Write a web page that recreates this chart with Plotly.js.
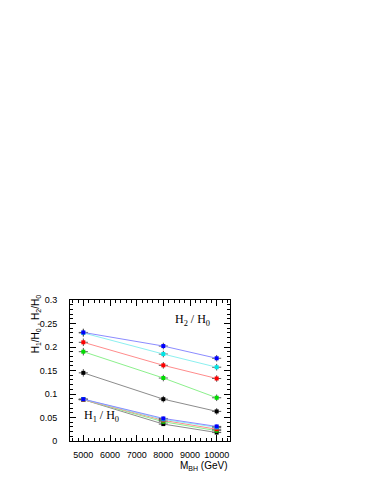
<!DOCTYPE html>
<html><head><meta charset="utf-8">
<script src="https://cdn.plot.ly/plotly-3.0.1.min.js"></script>
<style>body{margin:0;background:#fff}#c{width:382px;height:494px}</style>
</head><body><div id="c"></div>
<script>
var masses = [5000, 8000, 10000];
var xTicks = [5000, 6000, 7000, 8000, 9000, 10000];
var xTickText = ['5000', '6000', '7000', '8000', '9000', '10000'];
var yTicks = [0, 0.05, 0.1, 0.15, 0.2, 0.25, 0.3];
var yTickText = ['0', '0.05', '0.1', '0.15', '0.2', '0.25', '0.3'];
var colors = ['#0000ff', '#00e5e5', '#ff0000', '#00dd00', '#000000'];
var lineColors = ['#8c8cff', '#8cf0f0', '#ff8c8c', '#8cf08c', '#8c8c8c'];
// H2/H0
var h2Blue  = [0.231, 0.202, 0.176];
var h2Cyan  = [0.230, 0.185, 0.157];
var h2Red   = [0.210, 0.161, 0.133];
var h2Green = [0.190, 0.134, 0.092];
var h2Black = [0.145, 0.089, 0.063];
// H1/H0
var h1Blue  = [0.089, 0.048, 0.031];
var h1Cyan  = [0.089, 0.046, 0.029];
var h1Red   = [0.088, 0.044, 0.025];
var h1Green = [0.088, 0.041, 0.022];
var h1Black = [0.088, 0.036, 0.018];
var h2Err = [0.008, 0.007, 0.007];
var h1Err = [0.003, 0.004, 0.004];
var massErr = [170, 170, 170];

var h2 = [h2Blue, h2Cyan, h2Red, h2Green, h2Black];
var h1 = [h1Blue, h1Cyan, h1Red, h1Green, h1Black];

var traces = [];
function add(ys, i, err) {
  traces.push({
    x: masses, y: ys, type: 'scatter', mode: 'lines+markers',
    line: {color: lineColors[i], width: 1},
    marker: {color: colors[i], size: 4, symbol: 'square'},
    error_x: {type: 'data', array: massErr, color: '#555', thickness: 1, width: 0},
    error_y: {type: 'data', array: err, color: '#555', thickness: 1, width: 0},
    showlegend: false, hoverinfo: 'skip'
  });
}
for (var i = 4; i >= 0; i--) add(h2[i], i, h2Err);
for (var i = 4; i >= 0; i--) add(h1[i], i, h1Err);

var axFont = {family: 'Liberation Sans, Arial, sans-serif', size: 9, color: '#000'};
var layout = {
  width: 382, height: 494,
  margin: {l: 70, r: 152, t: 300, b: 53},
  paper_bgcolor: '#fff', plot_bgcolor: '#fff',
  xaxis: {
    range: [4500, 10500], tickvals: xTicks, ticktext: xTickText,
    ticks: 'inside', ticklen: 6, tickcolor: '#000', mirror: 'allticks',
    showline: true, linecolor: '#000', linewidth: 1, showgrid: false, zeroline: false,
    minor: {dtick: 200, ticks: 'inside', ticklen: 3, tickcolor: '#000', showgrid: false},
    tickfont: axFont, ticklabelstandoff: 5
  },
  yaxis: {
    range: [0, 0.3], tickvals: yTicks, ticktext: yTickText,
    ticks: 'inside', ticklen: 6, tickcolor: '#000', mirror: 'allticks',
    showline: true, linecolor: '#000', linewidth: 1, showgrid: false, zeroline: false,
    minor: {dtick: 0.01, ticks: 'inside', ticklen: 3, tickcolor: '#000', showgrid: false},
    tickfont: axFont, ticklabelstandoff: 10
  },
  annotations: [
    {text: 'H<sub>2</sub> / H<sub>0</sub>', xref: 'x', yref: 'y', x: 9110, y: 0.257,
     showarrow: false, font: {family: 'Liberation Serif, Times New Roman, serif', size: 12, color: '#000'}},
    {text: 'H<sub>1</sub> / H<sub>0</sub>', xref: 'x', yref: 'y', x: 5670, y: 0.053,
     showarrow: false, font: {family: 'Liberation Serif, Times New Roman, serif', size: 12, color: '#000'}},
    {text: 'M<sub>BH</sub> (GeV)', xref: 'paper', yref: 'paper', x: 1, y: -0.12,
     xanchor: 'right', yanchor: 'top', showarrow: false,
     font: {family: 'Liberation Sans, Arial, sans-serif', size: 10, color: '#000'}},
    {text: 'H<sub>1</sub>/H<sub>0</sub> , H<sub>2</sub>/H<sub>0</sub>', xref: 'paper', yref: 'paper',
     x: -0.215, y: 1.055, xanchor: 'center', yanchor: 'top', textangle: -90, showarrow: false,
     font: {family: 'Liberation Sans, Arial, sans-serif', size: 10, color: '#000'}}
  ]
};
Plotly.newPlot('c', traces, layout, {displayModeBar: false, staticPlot: true});
</script></body></html>
